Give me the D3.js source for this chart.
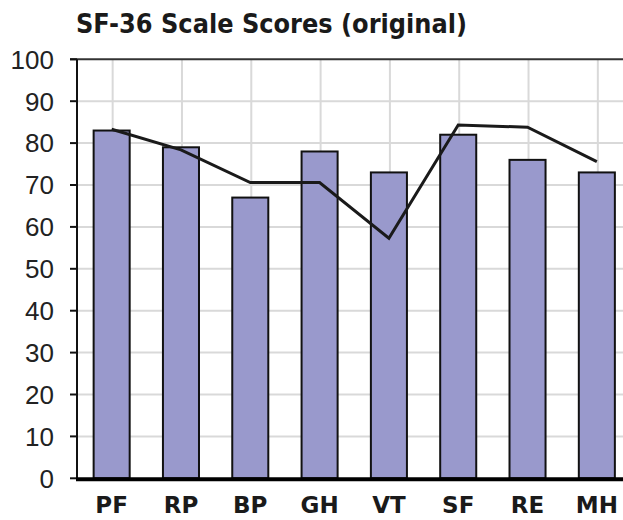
<!DOCTYPE html>
<html>
<head>
<meta charset="utf-8">
<script src="https://cdn.jsdelivr.net/npm/d3@7"></script>
<style>
  body { margin: 0; background: #fff; }
  svg { display: block; }
</style>
</head>
<body>
<svg width="623" height="520"></svg>
<script>
// данные шкал SF-36
const scales = ["PF", "RP", "BP", "GH", "VT", "SF", "RE", "MH"];
const scores = [83, 79, 67, 78, 73, 82, 76, 73];      // столбцы
const norms = [83.3, 78.4, 70.6, 70.6, 57.3, 84.3, 83.8, 75.6]; // линия
const yTicks = [0, 10, 20, 30, 40, 50, 60, 70, 80, 90, 100];
const title = "SF-36 Scale Scores (original)";

const svg = d3.select("svg");
const padLeft = 77, padTop = 59.3, padBottom = 478.3, padRight = 631.5;

const x = d3.scaleBand()
    .domain(scales)
    .range([padLeft, padRight])
    .paddingInner(0.48)
    .paddingOuter(0.24);

const y = d3.scaleLinear()
    .domain([0, 100])
    .range([padBottom, padTop]);

const cx = d => x(d) + x.bandwidth() / 2;

// сетка
svg.append("g")
    .selectAll("line")
    .data(yTicks.filter(t => t > 0 && t < 100))
    .join("line")
    .attr("x1", padLeft).attr("x2", 623)
    .attr("y1", d => y(d)).attr("y2", d => y(d))
    .attr("stroke", "#d9d9d9").attr("stroke-width", 2);

svg.append("g")
    .selectAll("line")
    .data(scales)
    .join("line")
    .attr("x1", d => cx(d) + 1).attr("x2", d => cx(d) + 1)
    .attr("y1", padTop).attr("y2", padBottom)
    .attr("stroke", "#d9d9d9").attr("stroke-width", 2);

// столбцы
svg.append("g")
    .selectAll("rect")
    .data(scales)
    .join("rect")
    .attr("x", d => x(d))
    .attr("y", (d, i) => y(scores[i]))
    .attr("width", x.bandwidth())
    .attr("height", (d, i) => padBottom - y(scores[i]))
    .attr("fill", "#9999cc")
    .attr("stroke", "#111")
    .attr("stroke-width", 2);

// линия норм
const line = d3.line()
    .x(d => cx(d.k))
    .y(d => y(d.v));

svg.append("path")
    .attr("d", line(scales.map((k, i) => ({ k: k, v: norms[i] }))))
    .attr("fill", "none")
    .attr("stroke", "#1a1a1a")
    .attr("stroke-width", 3);

// оси
svg.append("line")
    .attr("x1", 70).attr("x2", 623)
    .attr("y1", padTop).attr("y2", padTop)
    .attr("stroke", "#333").attr("stroke-width", 2);

svg.append("line")
    .attr("x1", padLeft).attr("x2", padLeft)
    .attr("y1", padTop).attr("y2", padBottom)
    .attr("stroke", "#111").attr("stroke-width", 2);

svg.append("g")
    .selectAll("line")
    .data(yTicks)
    .join("line")
    .attr("x1", 70).attr("x2", padLeft)
    .attr("y1", d => y(d)).attr("y2", d => y(d))
    .attr("stroke", "#111").attr("stroke-width", 2);

svg.append("line")
    .attr("x1", padLeft - 1).attr("x2", 623)
    .attr("y1", padBottom + 1).attr("y2", padBottom + 1)
    .attr("stroke", "#000").attr("stroke-width", 4);

svg.append("g")
    .selectAll("text")
    .data(yTicks)
    .join("text")
    .attr("x", 54)
    .attr("y", d => y(d))
    .attr("dy", "0.36em")
    .attr("text-anchor", "end")
    .attr("font-family", "Liberation Sans, Arial, sans-serif")
    .attr("font-size", 26)
    .attr("fill", "#222")
    .text(d => d);

svg.append("g")
    .selectAll("text")
    .data(scales)
    .join("text")
    .attr("x", d => cx(d))
    .attr("y", 513)
    .attr("text-anchor", "middle")
    .attr("font-family", "DejaVu Sans, sans-serif")
    .attr("font-weight", "bold")
    .attr("font-size", 23)
    .attr("fill", "#1a1a1a")
    .text(d => d);

svg.append("text")
    .attr("x", 76)
    .attr("y", 33)
    .attr("font-family", "DejaVu Sans, sans-serif")
    .attr("font-weight", "bold")
    .attr("font-size", 27)
    .attr("fill", "#1a1a1a")
    .attr("textLength", 391)
    .attr("lengthAdjust", "spacingAndGlyphs")
    .text(title);
</script>
</body>
</html>
